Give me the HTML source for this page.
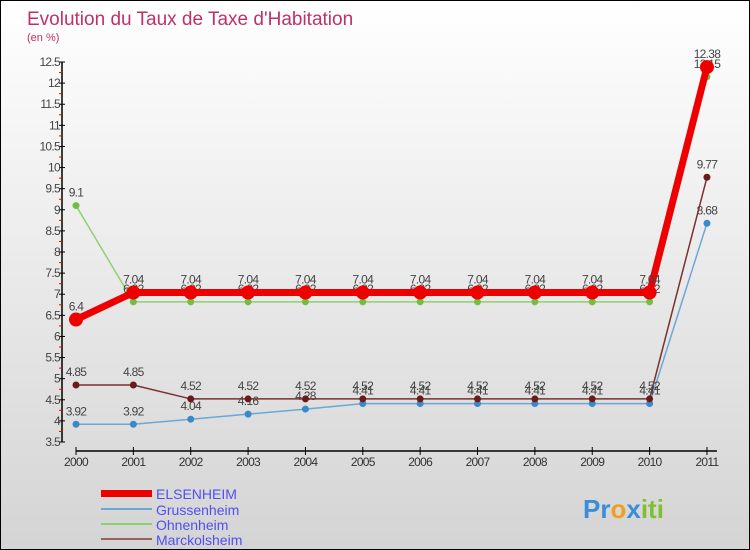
<!DOCTYPE html>
<html><head><meta charset="utf-8"><style>
body{margin:0;}
#c{width:748px;height:548px;border:1px solid #000;background:linear-gradient(#fff,#d4d4d4);position:relative;overflow:hidden;font-family:"Liberation Sans",sans-serif;}
</style></head><body>
<div id="c">
<svg id="s" width="748" height="548" xmlns="http://www.w3.org/2000/svg">
<text x="26" y="24" font-size="19" fill="#c0306a">Evolution du Taux de Taxe d'Habitation</text>
<text x="26" y="40" font-size="11" fill="#c0306a">(en %)</text>
<g id="axes"></g><g id="series"></g>
<g>
<rect x="100" y="489" width="51" height="7" fill="#e00"/>
<text x="155" y="498" font-size="14" fill="#5050f0">ELSENHEIM</text>
<line x1="100" y1="508" x2="151" y2="508" stroke="#6aa8d8" stroke-width="2"/>
<text x="155" y="514" font-size="14" fill="#5050f0">Grussenheim</text>
<line x1="100" y1="523" x2="151" y2="523" stroke="#8ad070" stroke-width="2"/>
<text x="155" y="529" font-size="14" fill="#5050f0">Ohnenheim</text>
<line x1="100" y1="538" x2="151" y2="538" stroke="#9a6060" stroke-width="2"/>
<text x="155" y="544" font-size="14" fill="#5050f0">Marckolsheim</text>
</g>
<text x="582" y="517" font-size="26" font-weight="bold"><tspan fill="#3a8ed8">Pr</tspan><tspan fill="#f0a020">o</tspan><tspan fill="#3a8ed8">x</tspan><tspan fill="#80c030">iti</tspan></text>
</svg></div>
<script>
const years=["2000","2001","2002","2003","2004","2005","2006","2007","2008","2009","2010","2011"];
const yTicks=[3.5,4,4.5,5,5.5,6,6.5,7,7.5,8,8.5,9,9.5,10,10.5,11,11.5,12,12.5];
const elsenheim=[6.4,7.04,7.04,7.04,7.04,7.04,7.04,7.04,7.04,7.04,7.04,12.38];
const grussenheim=[3.92,3.92,4.04,4.16,4.28,4.41,4.41,4.41,4.41,4.41,4.41,8.68];
const ohnenheim=[9.1,6.82,6.82,6.82,6.82,6.82,6.82,6.82,6.82,6.82,6.82,12.15];
const marckolsheim=[4.85,4.85,4.52,4.52,4.52,4.52,4.52,4.52,4.52,4.52,4.52,9.77];
const NS="http://www.w3.org/2000/svg";
const xS=i=>75+i*57.36;
const yS=v=>441-(v-3.5)*42.22;
function mk(t,a,p){const e=document.createElementNS(NS,t);for(const k in a)e.setAttribute(k,a[k]);p.appendChild(e);return e;}
const ax=document.getElementById('axes');
let l=mk('line',{x1:61,y1:yS(12.5),x2:61,y2:yS(3.5),stroke:'#000','stroke-width':1.5},ax);


const yMax=yTicks[yTicks.length-1];
yTicks.forEach(v=>{
 let t=mk('line',{x1:58,y1:yS(v),x2:64,y2:yS(v),stroke:'#000'},ax);
 
 
 if(v<yMax){
  let r=mk('line',{x1:58,y1:yS(v+0.25),x2:61,y2:yS(v+0.25),stroke:'#e00'},ax);
  
  
 }
 let tx=mk('text',{x:59,y:yS(v)+4,'font-size':12,fill:'#444','text-anchor':'end','letter-spacing':'-0.7'},ax);tx.textContent=v;
 
 
});
l=mk('line',{x1:xS(0),y1:450,x2:xS(11)+10,y2:450,stroke:'#000','stroke-width':1.5},ax);


years.forEach((y,i)=>{
 let t=mk('line',{x1:xS(i),y1:446,x2:xS(i),y2:454,stroke:'#000'},ax);
 
 
 let tx=mk('text',{x:xS(i),y:465,'font-size':12,fill:'#333','text-anchor':'middle','letter-spacing':'-0.7'},ax);tx.textContent=y;
 
 
});
const sg=document.getElementById('series');
function draw(name,vals,color,dot,w,r){
 const g=mk('g',{},sg);
 
 
 let p=mk('polyline',{points:vals.map((v,i)=>xS(i)+','+yS(v)).join(' '),fill:'none',stroke:color,'stroke-width':w},g);
 
 
 vals.forEach((v,i)=>{
  let c=mk('circle',{cx:xS(i),cy:yS(v),r:r,fill:dot},g);
  
  
  let t=mk('text',{x:xS(i),y:yS(v)-9,'font-size':12,fill:'#444','text-anchor':'middle','letter-spacing':'-0.7'},g);t.textContent=v;
  
  
 });
}
draw('grussenheim',grussenheim,'#6aa8d8','#3a8ac8',1.5,3.5);
draw('marckolsheim',marckolsheim,'#7a3030','#6a1a1a',1.5,3.5);
draw('ohnenheim',ohnenheim,'#90d070','#70c040',1.5,3.5);
draw('elsenheim',elsenheim,'#e00','#e00',7,7);
</script>
</body></html>
